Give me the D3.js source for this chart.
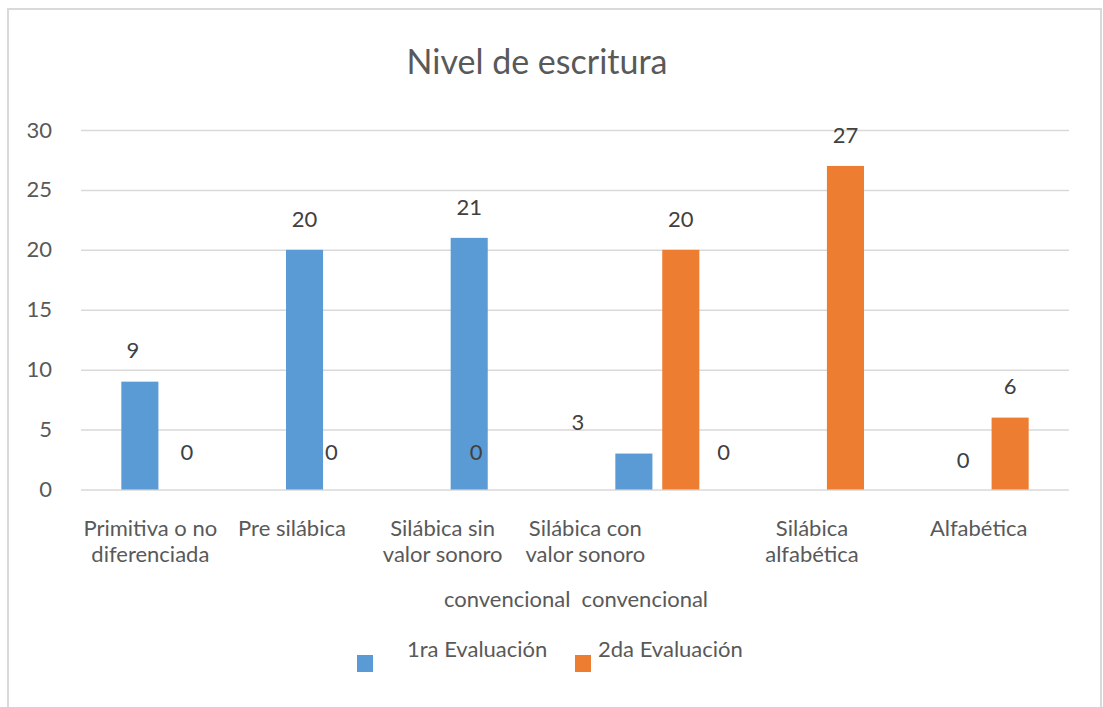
<!DOCTYPE html>
<html>
<head>
<meta charset="utf-8">
<script src="https://cdn.jsdelivr.net/npm/d3@7"></script>
<style>
  body { margin: 0; background: #fff; }
  text { font-family: Lato, "Noto Sans", sans-serif; }
</style>
</head>
<body>
<svg id="chart" width="1103" height="707"></svg>
<script>
// chart data
var categories = ["Primitiva o no diferenciada", "Pre silábica", "Silábica sin valor sonoro convencional",
                  "Silábica con valor sonoro convencional", "Silábica alfabética", "Alfabética"];
var categoryLines = [["Primitiva o no", "diferenciada"], ["Pre silábica"], ["Silábica sin", "valor sonoro"],
                     ["Silábica con", "valor sonoro"], ["Silábica", "alfabética"], ["Alfabética"]];
var seriesNames = ["1ra Evaluación", "2da Evaluación"];
var firstEval = [9, 20, 21, 3, 0, 0];
var secondEval = [0, 0, 0, 20, 27, 6];
var yTicks = [0, 5, 10, 15, 20, 25, 30];

// styling
var colors = ["#5B9BD5", "#ED7D31"];
var textColor = "#595959",
    labelColor = "#404040",
    gridColor = "#d9d9d9";
// the source image has its labels nudged sideways, keep those shifts here
var catShift = [-13, -36, -50, -72, -10, -8];
var valueShift = [[-7, 0, 0, -56, -75, 0], [0, -20, -40, 0, 0, 0]];

var svg = d3.select("#chart");

// outer chart border (bottom edge falls off the picture)
svg.append("rect")
    .attr("x", 8).attr("y", 9)
    .attr("width", 1093).attr("height", 720)
    .style("fill", "none")
    .style("stroke", gridColor)
    .style("stroke-width", 2);

var x = d3.scaleBand().domain(categories).range([81, 1069]);
var xSub = d3.scaleBand().domain([0, 1]).range([-42, 42]).paddingInner(0.21);
var y = d3.scaleLinear().domain([0, 30]).range([489.5, 130]);

// title
svg.append("text")
    .attr("x", 537).attr("y", 74)
    .attr("text-anchor", "middle")
    .style("font-size", "34px")
    .style("fill", textColor)
    .text("Nivel de escritura");

// y axis + gridlines
var yAxis = svg.append("g")
    .attr("transform", "translate(81,0)")
    .call(d3.axisLeft(y).tickValues(yTicks).tickSize(-988).tickPadding(29));
yAxis.select(".domain").remove();
yAxis.selectAll(".tick line")
    .style("stroke", gridColor)
    .style("stroke-width", 1.5);
yAxis.selectAll(".tick text")
    .style("font-size", "22px")
    .style("font-family", "Lato, 'Noto Sans', sans-serif")
    .style("fill", textColor);

// bars
var rows = [];
categories.forEach(function(c, i) {
    rows.push({cat: c, idx: i, s: 0, v: firstEval[i]});
    rows.push({cat: c, idx: i, s: 1, v: secondEval[i]});
});

svg.append("g").selectAll("rect")
    .data(rows.filter(function(d) { return d.v > 0; }))
    .enter()
    .append("rect")
    .attr("x", function(d) { return x(d.cat) + x.bandwidth() / 2 + xSub(d.s); })
    .attr("y", function(d) { return y(d.v); })
    .attr("width", xSub.bandwidth())
    .attr("height", function(d) { return y(0) - y(d.v); })
    .style("fill", function(d) { return colors[d.s]; });

// value labels (zeros shown only where the picture shows them)
var shown = rows.filter(function(d) {
    return d.v > 0 || (d.s === 1 && d.idx < 3) || (d.s === 0 && d.idx > 3);
});
svg.append("g").selectAll("text")
    .data(shown)
    .enter()
    .append("text")
    .attr("x", function(d) {
        return x(d.cat) + x.bandwidth() / 2 + xSub(d.s) + xSub.bandwidth() / 2 + valueShift[d.s][d.idx];
    })
    .attr("y", function(d) { return y(d.v) - 31 + (d.v === 0 ? (d.idx === 5 ? 2 : -6) : 0); })
    .attr("dy", "0.35em")
    .attr("text-anchor", "middle")
    .style("font-size", "22px")
    .style("fill", labelColor)
    .text(function(d) { return d.v; });

// category labels
var catG = svg.append("g").selectAll("text")
    .data(categories)
    .enter()
    .append("text")
    .attr("text-anchor", "middle")
    .style("font-size", "22px")
    .style("fill", textColor);
catG.selectAll("tspan")
    .data(function(d, i) {
        return categoryLines[i].map(function(t) { return {t: t, c: d, i: i}; });
    })
    .enter()
    .append("tspan")
    .attr("x", function(d) { return x(d.c) + x.bandwidth() / 2 + catShift[d.i]; })
    .attr("y", function(d, j) { return 536 + j * 26; })
    .text(function(d) { return d.t; });

// the third line of two labels got pushed down in the source
svg.append("text")
    .attr("x", 576).attr("y", 607)
    .attr("text-anchor", "middle")
    .attr("xml:space", "preserve")
    .style("white-space", "pre")
    .style("font-size", "22px")
    .style("fill", textColor)
    .text("convencional  convencional");

// legend
var legendPos = [{sx: 357, tx: 407}, {sx: 575, tx: 598}];
var leg = svg.append("g").selectAll("g")
    .data(seriesNames)
    .enter()
    .append("g");
leg.append("rect")
    .attr("x", function(d, i) { return legendPos[i].sx; })
    .attr("y", 655)
    .attr("width", 16).attr("height", 17)
    .style("fill", function(d, i) { return colors[i]; });
leg.append("text")
    .attr("x", function(d, i) { return legendPos[i].tx; })
    .attr("y", 657)
    .style("font-size", "22px")
    .style("fill", textColor)
    .text(function(d) { return d; });
</script>
</body>
</html>
